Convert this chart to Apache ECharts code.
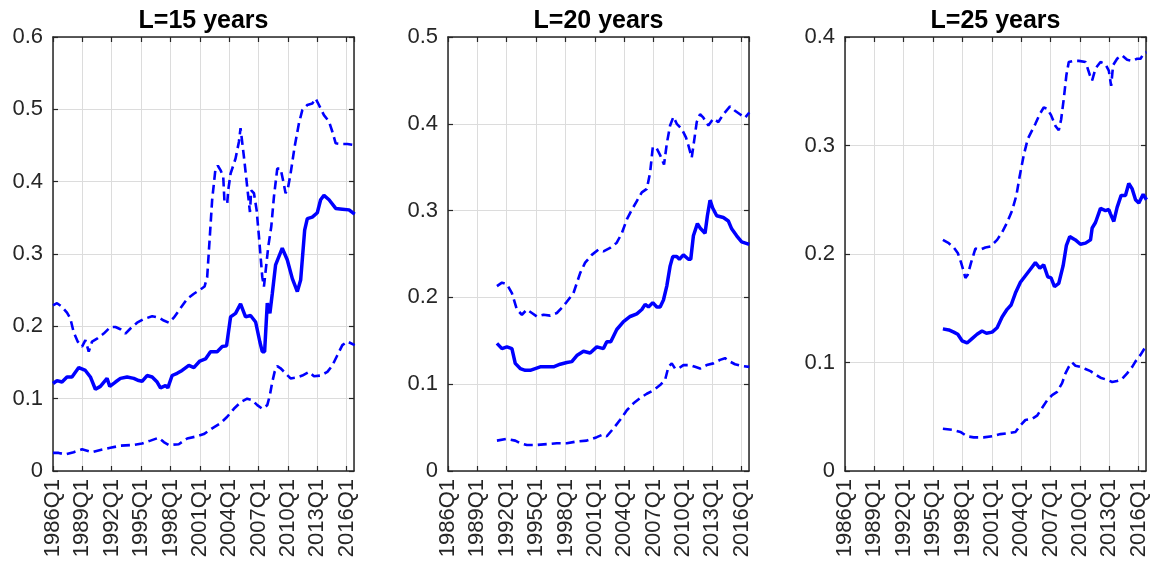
<!DOCTYPE html>
<html>
<head>
<meta charset="utf-8">
<script src="https://cdn.jsdelivr.net/npm/echarts@6/dist/echarts.min.js"></script>
<style>
html,body{margin:0;padding:0;background:#fff;}
#chart{width:1157px;height:566px;}
</style>
</head>
<body>
<div id="chart"></div>
<script>
// ---- Data (decimal year, value) ----
const panelTitles = ['L=15 years', 'L=20 years', 'L=25 years'];
const xTickLabels = ['1986Q1','1989Q1','1992Q1','1995Q1','1998Q1','2001Q1','2004Q1','2007Q1','2010Q1','2013Q1','2016Q1'];
const yMaxes = [0.6, 0.5, 0.4];

const l15Mid = [[1986.00,0.121],[1986.41,0.125],[1986.92,0.123],[1987.43,0.130],[1987.94,0.130],[1988.63,0.143],[1989.31,0.139],[1989.82,0.130],[1990.33,0.113],[1990.84,0.117],[1991.52,0.128],[1991.80,0.117],[1992.38,0.123],[1992.89,0.128],[1993.57,0.130],[1994.25,0.128],[1994.76,0.125],[1995.10,0.124],[1995.61,0.132],[1996.13,0.130],[1996.64,0.123],[1996.98,0.115],[1997.49,0.118],[1997.73,0.115],[1998.17,0.132],[1998.68,0.135],[1999.19,0.139],[1999.88,0.146],[2000.39,0.143],[2001.00,0.152],[2001.58,0.155],[2002.09,0.165],[2002.77,0.165],[2003.29,0.172],[2003.73,0.173],[2004.14,0.213],[2004.65,0.218],[2005.16,0.231],[2005.67,0.213],[2006.18,0.215],[2006.70,0.206],[2007.14,0.178],[2007.38,0.165],[2007.62,0.165],[2007.89,0.232],[2008.16,0.218],[2008.40,0.245],[2008.74,0.285],[2009.42,0.308],[2009.93,0.292],[2010.45,0.266],[2010.96,0.248],[2011.30,0.264],[2011.71,0.333],[2011.98,0.349],[2012.49,0.351],[2013.00,0.357],[2013.34,0.375],[2013.68,0.381],[2014.20,0.375],[2014.88,0.363],[2015.56,0.362],[2016.24,0.361],[2016.82,0.355]];
const l15Upper = [[1986.00,0.229],[1986.41,0.232],[1986.92,0.227],[1987.43,0.219],[1987.77,0.211],[1988.11,0.192],[1988.52,0.179],[1988.97,0.172],[1989.31,0.181],[1989.65,0.165],[1989.99,0.179],[1990.50,0.183],[1991.18,0.190],[1991.86,0.199],[1992.38,0.199],[1992.89,0.196],[1993.40,0.190],[1993.91,0.197],[1994.59,0.205],[1995.27,0.210],[1996.13,0.214],[1996.81,0.212],[1997.32,0.208],[1997.83,0.205],[1998.34,0.212],[1999.02,0.225],[1999.71,0.238],[2000.39,0.245],[2001.07,0.251],[2001.48,0.255],[2001.75,0.268],[2002.02,0.324],[2002.26,0.375],[2002.60,0.418],[2002.84,0.422],[2003.11,0.416],[2003.39,0.407],[2003.52,0.372],[2003.80,0.370],[2003.90,0.388],[2004.14,0.411],[2004.65,0.432],[2004.99,0.455],[2005.16,0.474],[2005.50,0.435],[2005.84,0.393],[2006.12,0.358],[2006.25,0.388],[2006.53,0.384],[2006.80,0.361],[2007.04,0.324],[2007.38,0.268],[2007.55,0.255],[2007.79,0.285],[2007.99,0.310],[2008.30,0.338],[2008.57,0.379],[2008.91,0.418],[2009.25,0.418],[2009.53,0.400],[2009.76,0.384],[2010.00,0.391],[2010.27,0.411],[2010.68,0.448],[2011.13,0.481],[2011.47,0.499],[2011.98,0.506],[2012.49,0.508],[2012.83,0.515],[2013.17,0.506],[2013.68,0.492],[2014.20,0.483],[2014.54,0.469],[2014.88,0.453],[2015.39,0.452],[2016.07,0.452],[2016.58,0.451],[2016.82,0.451]];
const l15Lower = [[1986.00,0.025],[1986.58,0.025],[1987.26,0.023],[1988.11,0.026],[1988.97,0.030],[1989.99,0.026],[1990.84,0.029],[1991.86,0.032],[1992.89,0.035],[1994.25,0.036],[1995.10,0.038],[1995.96,0.042],[1996.81,0.046],[1997.32,0.040],[1997.83,0.036],[1998.85,0.037],[1999.71,0.045],[2000.73,0.048],[2001.41,0.051],[2002.26,0.059],[2003.11,0.066],[2003.80,0.075],[2004.48,0.086],[2005.16,0.095],[2005.84,0.100],[2006.35,0.098],[2006.87,0.091],[2007.38,0.086],[2007.89,0.091],[2008.16,0.105],[2008.40,0.123],[2008.64,0.137],[2008.91,0.145],[2009.25,0.142],[2009.76,0.135],[2010.27,0.128],[2010.79,0.129],[2011.47,0.132],[2012.15,0.137],[2012.66,0.131],[2013.34,0.132],[2014.03,0.137],[2014.54,0.146],[2015.05,0.160],[2015.56,0.174],[2016.07,0.179],[2016.82,0.174]];

const l20Mid = [[1991.00,0.147],[1991.51,0.141],[1992.02,0.143],[1992.53,0.141],[1992.87,0.124],[1993.38,0.118],[1993.89,0.116],[1994.40,0.116],[1994.91,0.118],[1995.42,0.120],[1996.10,0.120],[1996.78,0.120],[1997.46,0.123],[1998.14,0.125],[1998.65,0.126],[1999.16,0.133],[1999.84,0.138],[2000.52,0.136],[2001.20,0.143],[2001.88,0.141],[2002.22,0.149],[2002.63,0.149],[2003.24,0.163],[2003.93,0.172],[2004.61,0.178],[2005.29,0.181],[2005.80,0.186],[2006.14,0.192],[2006.48,0.189],[2006.92,0.194],[2007.33,0.189],[2007.67,0.189],[2008.01,0.197],[2008.35,0.213],[2008.69,0.236],[2008.96,0.247],[2009.37,0.247],[2009.64,0.244],[2010.05,0.249],[2010.56,0.244],[2010.80,0.244],[2011.07,0.271],[2011.48,0.285],[2011.75,0.280],[2012.26,0.274],[2012.50,0.294],[2012.77,0.312],[2013.04,0.303],[2013.45,0.294],[2014.13,0.292],[2014.64,0.288],[2014.98,0.279],[2015.49,0.271],[2016.00,0.264],[2016.78,0.261]];
const l20Upper = [[1991.00,0.213],[1991.51,0.217],[1992.02,0.215],[1992.53,0.205],[1993.04,0.186],[1993.55,0.180],[1994.06,0.186],[1994.57,0.182],[1995.08,0.178],[1995.76,0.180],[1996.44,0.179],[1997.12,0.182],[1997.63,0.188],[1998.14,0.195],[1998.82,0.205],[1999.50,0.228],[2000.01,0.240],[2000.69,0.249],[2001.37,0.255],[2001.88,0.253],[2002.56,0.257],[2003.24,0.263],[2003.76,0.274],[2004.27,0.290],[2004.78,0.301],[2005.29,0.311],[2005.80,0.321],[2006.31,0.325],[2006.65,0.344],[2006.92,0.373],[2007.26,0.373],[2007.67,0.364],[2008.07,0.353],[2008.35,0.377],[2008.69,0.398],[2009.03,0.408],[2009.37,0.400],[2009.88,0.394],[2010.32,0.384],[2010.56,0.375],[2010.90,0.361],[2011.14,0.380],[2011.41,0.402],[2011.75,0.411],[2012.09,0.407],[2012.60,0.398],[2013.11,0.406],[2013.62,0.402],[2014.13,0.411],[2014.81,0.420],[2015.32,0.415],[2015.83,0.411],[2016.34,0.407],[2016.78,0.413]];
const l20Lower = [[1991.00,0.035],[1992.02,0.037],[1992.87,0.035],[1993.38,0.032],[1994.06,0.030],[1995.08,0.030],[1996.10,0.031],[1997.12,0.032],[1998.14,0.032],[1999.16,0.034],[2000.18,0.035],[2001.20,0.039],[2001.82,0.042],[2002.22,0.040],[2002.90,0.049],[2003.59,0.059],[2004.27,0.070],[2004.95,0.078],[2005.63,0.084],[2006.31,0.089],[2006.99,0.093],[2007.67,0.099],[2008.18,0.105],[2008.52,0.120],[2008.86,0.124],[2009.20,0.118],[2009.54,0.118],[2010.05,0.122],[2010.73,0.122],[2011.24,0.120],[2011.75,0.118],[2012.43,0.122],[2013.11,0.124],[2013.79,0.128],[2014.30,0.130],[2014.81,0.126],[2015.32,0.123],[2016.00,0.121],[2016.78,0.120]];

const l25Mid = [[1996.00,0.131],[1996.60,0.130],[1997.11,0.128],[1997.52,0.126],[1997.96,0.120],[1998.47,0.118],[1998.98,0.122],[1999.49,0.126],[2000.00,0.129],[2000.45,0.127],[2001.03,0.128],[2001.54,0.132],[2002.05,0.142],[2002.56,0.149],[2002.97,0.153],[2003.41,0.164],[2003.92,0.174],[2004.43,0.180],[2004.94,0.186],[2005.45,0.192],[2005.90,0.187],[2006.30,0.190],[2006.71,0.179],[2007.05,0.178],[2007.40,0.170],[2007.84,0.173],[2008.28,0.189],[2008.62,0.208],[2008.96,0.216],[2009.54,0.213],[2010.05,0.209],[2010.57,0.210],[2011.08,0.213],[2011.25,0.224],[2011.59,0.229],[2012.10,0.242],[2012.61,0.240],[2012.95,0.241],[2013.12,0.237],[2013.46,0.230],[2013.80,0.243],[2014.21,0.254],[2014.65,0.254],[2014.99,0.265],[2015.34,0.260],[2015.68,0.250],[2016.02,0.247],[2016.46,0.255],[2016.80,0.250]];
const l25Upper = [[1996.00,0.213],[1996.60,0.210],[1997.11,0.206],[1997.52,0.201],[1997.86,0.192],[1998.06,0.186],[1998.30,0.178],[1998.54,0.181],[1998.88,0.192],[1999.32,0.205],[1999.83,0.204],[2000.34,0.206],[2000.86,0.207],[2001.54,0.213],[2002.05,0.220],[2002.56,0.229],[2003.07,0.240],[2003.51,0.254],[2003.85,0.272],[2004.26,0.291],[2004.67,0.306],[2005.11,0.314],[2005.45,0.320],[2005.90,0.329],[2006.30,0.335],[2006.64,0.334],[2007.05,0.328],[2007.50,0.318],[2007.84,0.314],[2008.08,0.324],[2008.35,0.343],[2008.62,0.365],[2008.86,0.377],[2009.37,0.378],[2009.88,0.378],[2010.57,0.377],[2011.01,0.365],[2011.25,0.360],[2011.59,0.371],[2012.10,0.377],[2012.61,0.375],[2012.95,0.369],[2013.19,0.355],[2013.39,0.374],[2013.80,0.380],[2014.31,0.383],[2014.82,0.379],[2015.34,0.378],[2015.85,0.380],[2016.19,0.380],[2016.53,0.385],[2016.80,0.386]];
const l25Lower = [[1996.00,0.039],[1996.94,0.038],[1997.79,0.036],[1998.47,0.032],[1999.15,0.031],[2000.17,0.031],[2001.03,0.032],[2001.88,0.034],[2002.73,0.035],[2003.41,0.036],[2003.92,0.042],[2004.43,0.047],[2005.11,0.048],[2005.62,0.051],[2006.13,0.058],[2006.64,0.065],[2007.16,0.070],[2007.67,0.073],[2008.18,0.081],[2008.52,0.090],[2008.86,0.096],[2009.20,0.100],[2009.54,0.097],[2010.05,0.096],[2010.57,0.094],[2011.08,0.092],[2011.59,0.089],[2012.10,0.086],[2012.78,0.084],[2013.29,0.082],[2013.80,0.083],[2014.31,0.085],[2014.82,0.090],[2015.34,0.096],[2015.68,0.101],[2016.19,0.107],[2016.53,0.112],[2016.80,0.115]];

const panelSeries = [
  [l15Mid, l15Upper, l15Lower],
  [l20Mid, l20Upper, l20Lower],
  [l25Mid, l25Upper, l25Lower]
];

// ---- Layout / style ----
const FONT = 'Liberation Sans, Arial, Helvetica, sans-serif';
const gridLefts = [53, 448, 845];
const gridTop = 37, gridW = 301, gridH = 434;
const axisColor = '#262626';
const gridColor = '#dcdcdc';
const blue = '#0000ff';

const chart = echarts.init(document.getElementById('chart'), null, {renderer: 'canvas'});

const grids = [], xAxes = [], yAxes = [], series = [], graphics = [];

function xFmt(v) {
  const k = (v - 1986) / 3;
  const r = Math.round(k);
  return Math.abs(k - r) < 1e-6 && xTickLabels[r] !== undefined ? xTickLabels[r] : '';
}

for (let i = 0; i < 3; i++) {
  grids.push({left: gridLefts[i], top: gridTop, width: gridW, height: gridH, containLabel: false});
  const common = {
    type: 'value', gridIndex: i, min: 1986, max: 2016.75, interval: 3,
    axisLine: {show: true, onZero: false, lineStyle: {color: axisColor, width: 1.5}},
    axisTick: {show: true, inside: true, length: 5, lineStyle: {color: axisColor, width: 1.2}}
  };
  xAxes.push(Object.assign({}, common, {
    position: 'bottom',
    axisLabel: {show: true, rotate: 90, fontSize: 22, color: axisColor, fontFamily: FONT, margin: 8, formatter: xFmt, showMaxLabel: false},
    splitLine: {show: true, lineStyle: {color: gridColor, width: 1}}
  }));
  xAxes.push(Object.assign({}, common, {
    position: 'top',
    axisLabel: {show: false},
    splitLine: {show: false}
  }));
  const ycommon = {
    type: 'value', gridIndex: i, min: 0, max: yMaxes[i], interval: 0.1,
    axisLine: {show: true, onZero: false, lineStyle: {color: axisColor, width: 1.5}},
    axisTick: {show: true, inside: true, length: 5, lineStyle: {color: axisColor, width: 1.2}}
  };
  yAxes.push(Object.assign({}, ycommon, {
    position: 'left',
    axisLabel: {show: true, fontSize: 22, color: axisColor, fontFamily: FONT, margin: 10},
    splitLine: {show: true, lineStyle: {color: gridColor, width: 1}}
  }));
  yAxes.push(Object.assign({}, ycommon, {
    position: 'right',
    axisLabel: {show: false},
    splitLine: {show: false}
  }));

  const [mid, up, lo] = panelSeries[i];
  const base = {type: 'line', xAxisIndex: 2 * i, yAxisIndex: 2 * i, showSymbol: false, symbol: 'none', silent: true, animation: false, clip: true};
  series.push(Object.assign({}, base, {data: lo, lineStyle: {color: blue, width: 2.6, type: [9, 5]}}));
  series.push(Object.assign({}, base, {data: up, lineStyle: {color: blue, width: 2.6, type: [9, 5]}}));
  series.push(Object.assign({}, base, {data: mid, lineStyle: {color: blue, width: 3.5, type: 'solid'}}));

  graphics.push({
    type: 'text', x: gridLefts[i] + gridW / 2, y: 21,
    style: {text: panelTitles[i], textAlign: 'center', textVerticalAlign: 'middle',
      fontSize: 25, fontWeight: 'bold', fontFamily: FONT, fill: '#000'}
  });
}

chart.setOption({
  animation: false,
  backgroundColor: '#fff',
  grid: grids,
  xAxis: xAxes,
  yAxis: yAxes,
  series: series,
  graphic: graphics
});
</script>
</body>
</html>
